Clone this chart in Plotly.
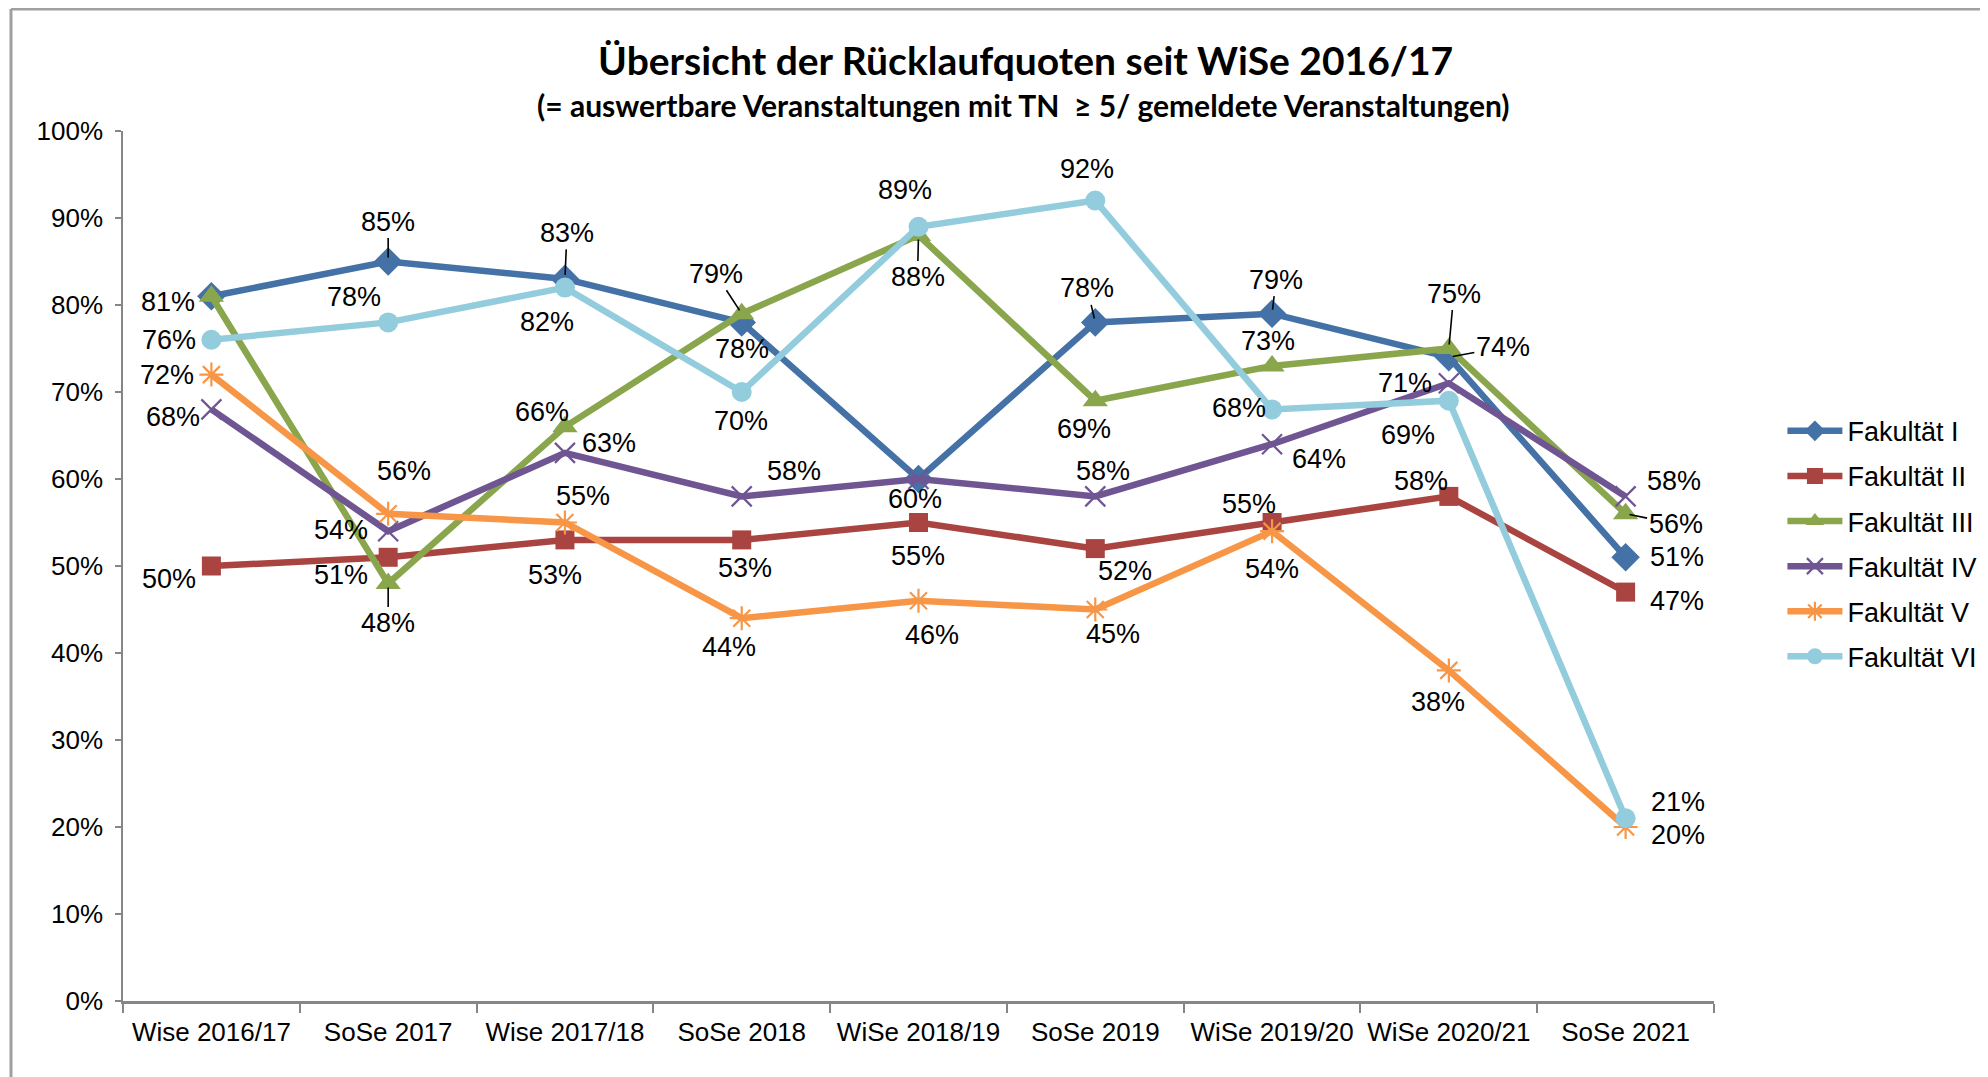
import plotly.graph_objects as go

categories = ["Wise 2016/17", "SoSe 2017", "Wise 2017/18", "SoSe 2018", "WiSe 2018/19",
              "SoSe 2019", "WiSe 2019/20", "WiSe 2020/21", "SoSe 2021"]
series_names = ["Fakultät I", "Fakultät II", "Fakultät III", "Fakultät IV", "Fakultät V", "Fakultät VI"]
fak_1 = [81, 85, 83, 78, 60, 78, 79, 74, 51]
fak_2 = [50, 51, 53, 53, 55, 52, 55, 58, 47]
fak_3 = [81, 48, 66, 79, 88, 69, 73, 75, 56]
fak_4 = [68, 54, 63, 58, 60, 58, 64, 71, 58]
fak_5 = [72, 56, 55, 44, 46, 45, 54, 38, 20]
fak_6 = [76, 78, 82, 70, 89, 92, 68, 69, 21]
y_ticks = [0, 10, 20, 30, 40, 50, 60, 70, 80, 90, 100]
title_text = "Übersicht der Rücklaufquoten seit WiSe 2016/17"
subtitle_text = "(= auswertbare Veranstaltungen mit TN &nbsp;≥ 5/ gemeldete Veranstaltungen)"

all_series = [fak_1, fak_2, fak_3, fak_4, fak_5, fak_6]

# styles
colors = ["#4471A6", "#A94441", "#8AA64C", "#6F5592", "#F79646", "#93CDDD"]
symbols = ["diamond", "square", "triangle-up", "x-thin-open", "asterisk-open", "circle"]
msizes = [22, 19, 22, 20, 20, 20]

# label offsets (px, screen: +y down) and leader flags
label_off = [
    [(-43, 6), (0, -40), (2, -46), (0, 27), (-4, 20), (-8, -34), (4, -34), (54, -10), (51, 0)],
    [(-42, 13), (-47, 18), (-10, 35), (3, 28), (-1, 33), (30, 22), (-23, -19), (-28, -15), (51, 9)],
    [(-43, 6), (0, 40), (-23, -15), (-26, -40), (-1, 42), (-11, 28), (-4, -25), (5, -55), (50, 10)],
    [(-38, 8), (-47, -1), (44, -10), (52, -25), (-4, 20), (8, -25), (47, 15), (-44, 0), (48, -15)],
    [(-44, 0), (16, -43), (18, -27), (-13, 29), (13, 34), (18, 24), (0, 38), (-11, 32), (52, 8)],
    [(-42, 0), (-34, -25), (-18, 34), (-1, 29), (-14, -37), (-8, -32), (-33, -1), (-41, 34), (52, -16)],
]
leader = {(0, 1), (0, 2), (0, 5), (0, 6), (0, 7), (2, 1), (2, 3), (2, 4), (2, 7), (2, 8)}
hidden = {(2, 0), (3, 4)}  # labels hidden behind identical labels

label_font = dict(family="Liberation Sans, Arial, sans-serif", size=27, color="#000000")

fig = go.Figure()
for i, (name, vals) in enumerate(zip(series_names, all_series)):
    sym = symbols[i]
    marker = dict(symbol=sym, size=msizes[i], color=colors[i])
    if sym.endswith("-open"):
        marker["line"] = dict(color=colors[i], width=2.2)
    fig.add_trace(go.Scatter(
        x=categories, y=vals, name=name, mode="lines+markers",
        line=dict(color=colors[i], width=6.5),
        marker=marker, legendgroup=name,
    ))

annotations = []
for i, vals in enumerate(all_series):
    for j, v in enumerate(vals):
        if (i, j) in hidden:
            continue
        ax, ay = label_off[i][j]
        is_leader = (i, j) in leader
        annotations.append(dict(
            x=categories[j], y=v, xref="x", yref="y",
            text=f"{v}%", font=label_font,
            showarrow=True, ax=ax, ay=ay, axref="pixel", ayref="pixel",
            arrowhead=0, arrowwidth=1.6,
            arrowcolor="#000000" if is_leader else "rgba(0,0,0,0)",
            standoff=4,
        ))

annotations.append(dict(
    text=f"<b>{title_text}</b>", xref="paper", yref="paper", x=0.567, y=1.0816,
    showarrow=False, xanchor="center", yanchor="middle",
    font=dict(family="Lato, Open Sans, sans-serif", size=39, color="#000000"),
))
annotations.append(dict(
    text=f"<b>{subtitle_text}</b>", xref="paper", yref="paper", x=0.566, y=1.030,
    showarrow=False, xanchor="center", yanchor="middle",
    font=dict(family="Lato, Open Sans, sans-serif", size=30, color="#000000"),
))

border = dict(color="#A0A0A0", width=3)
shapes = [
    dict(type="line", xref="paper", yref="paper", x0=-0.0704, x1=1.18, y0=1.1402, y1=1.1402, line=border),
    dict(type="line", xref="paper", yref="paper", x0=-0.0704, x1=-0.0704, y0=1.1402, y1=-0.09, line=border),
]

fig.update_layout(
    width=1980, height=1069,
    margin=dict(l=115, r=274, t=123, b=76, autoexpand=False),
    paper_bgcolor="white", plot_bgcolor="white",
    showlegend=True,
    legend=dict(
        x=1.043, y=0.683, xanchor="left", yanchor="top",
        font=dict(family="Liberation Sans, Arial, sans-serif", size=27, color="#000000"),
        tracegroupgap=7, itemwidth=55, bgcolor="rgba(0,0,0,0)",
    ),
    annotations=annotations,
    shapes=shapes,
)
fig.update_xaxes(
    type="category", range=[-0.5, len(categories) - 0.5],
    showline=True, linecolor="#868686", linewidth=3,
    ticks="outside", tickson="boundaries", ticklen=9, tickcolor="#868686", tickwidth=1.5,
    showgrid=False, zeroline=False, ticklabelstandoff=6, tickangle=0, automargin=False,
    tickfont=dict(family="Liberation Sans, Arial, sans-serif", size=26, color="#000000"),
)
fig.update_yaxes(
    range=[0, 100], tickvals=y_ticks, ticktext=[f"{t}%" for t in y_ticks],
    showline=True, linecolor="#868686", linewidth=1.5,
    ticks="outside", ticklen=6, tickcolor="#868686", tickwidth=1.5,
    showgrid=False, zeroline=False, ticklabelstandoff=7, automargin=False,
    tickfont=dict(family="Liberation Sans, Arial, sans-serif", size=26, color="#000000"),
)

fig.write_html("out.html")
